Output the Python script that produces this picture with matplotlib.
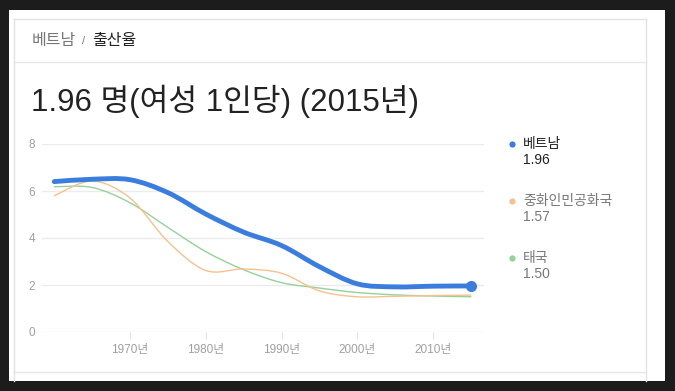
import matplotlib.pyplot as plt
from matplotlib.patches import Rectangle, PathPatch
from matplotlib.path import Path

years = [1960, 1965, 1970, 1975, 1980, 1985, 1990, 1995, 2000, 2005, 2010, 2015]
vietnam = [6.40, 6.50, 6.48, 5.93, 5.02, 4.25, 3.68, 2.78, 2.05, 1.92, 1.95, 1.96]
china = [5.80, 6.42, 5.70, 3.85, 2.62, 2.68, 2.50, 1.75, 1.50, 1.52, 1.55, 1.57]
thailand = [6.18, 6.15, 5.50, 4.45, 3.42, 2.65, 2.10, 1.87, 1.68, 1.58, 1.53, 1.50]

names = ['베트남', '중화인민공화국', '태국']
latest = ['1.96', '1.57', '1.50']
colors = ['#3b7ddd', '#f7c08f', '#95d19c']
xticks = [1970, 1980, 1990, 2000, 2010]
xticklabels = ['1970년', '1980년', '1990년', '2000년', '2010년']
yticks = [0, 2, 4, 6, 8]

FONT = ['Liberation Sans', 'Noto Sans CJK KR']
W, H = 675, 391


def smooth_path(xs, ys):
    # catmull-rom through the points, drawn as cubic beziers
    pts = list(zip(xs, ys))
    verts = [pts[0]]
    codes = [Path.MOVETO]
    n = len(pts)
    for i in range(n - 1):
        p0 = pts[max(i - 1, 0)]
        p1 = pts[i]
        p2 = pts[i + 1]
        p3 = pts[min(i + 2, n - 1)]
        c1 = (p1[0] + (p2[0] - p0[0]) / 6, p1[1] + (p2[1] - p0[1]) / 6)
        c2 = (p2[0] - (p3[0] - p1[0]) / 6, p2[1] - (p3[1] - p1[1]) / 6)
        verts += [c1, c2, p2]
        codes += [Path.CURVE4] * 3
    return Path(verts, codes)


fig = plt.figure(figsize=(W / 100, H / 100), dpi=100, facecolor='#1c1c1c')

# page / card background in pixel coords
bg = fig.add_axes([0, 0, 1, 1], zorder=0)
bg.set_xlim(0, W)
bg.set_ylim(H, 0)
bg.axis('off')
bg.add_patch(Rectangle((9, 10), 656, 371, fc='white', ec='none'))
bc = '#e2e2e2'
bg.plot([14, 646], [19, 19], color=bc, lw=1)
bg.plot([14, 14], [19, 381], color=bc, lw=1)
bg.plot([646, 646], [19, 381], color=bc, lw=1)
bg.plot([14, 646], [62, 62], color='#e6e6e6', lw=1)
bg.plot([14, 646], [372, 372], color='#e6e6e6', lw=1)

bg.text(32, 40, '베트남', color='#777777', fontsize=11.5, family=FONT, va='center')
bg.text(82, 41, '/', color='#777777', fontsize=8, family=FONT, va='center')
bg.text(92, 40, '출산율', color='#222222', fontsize=11.5, family=FONT, va='center')
bg.text(31, 111, '1.96 명(여성 1인당) (2015년)', color='#222222', fontsize=22.5,
        family=FONT, va='baseline')

# legend
leg_y = [144, 201, 258]
for i in range(3):
    bg.plot(512, leg_y[i], 'o', color=colors[i], ms=4.5, mec='none')
    c = '#222222' if i == 0 else '#777777'
    bg.text(523, leg_y[i], names[i], color=c, fontsize=10, family=FONT, va='center')
    bg.text(523, leg_y[i] + 16, latest[i], color=c, fontsize=10, family=FONT, va='center')

# chart
ax = fig.add_axes([42 / W, (H - 332) / H, 442 / W, 188 / H], zorder=1)
ax.set_facecolor('none')
ax.set_xlim(1958.38, 2016.73)
ax.set_ylim(0, 8)
for s in ax.spines.values():
    s.set_visible(False)
ax.set_yticks(yticks)
ax.set_yticklabels([str(v) for v in yticks])
ax.set_xticks(xticks)
ax.set_xticklabels(xticklabels)
ax.tick_params(axis='y', length=0, pad=5, labelsize=8.5, labelcolor='#a0a0a0')
ax.tick_params(axis='x', length=5, width=0.8, color='#e2e2e2', pad=4,
               labelsize=8.5, labelcolor='#a0a0a0')
for lab in ax.get_xticklabels() + ax.get_yticklabels():
    lab.set_family(FONT)
ax.grid(axis='y', color='#ebebeb', lw=1)
ax.set_axisbelow(True)

series = [thailand, china, vietnam]
scol = [colors[2], colors[1], colors[0]]
widths = [1.0, 1.0, 3.5]
for ys, c, lw in zip(series, scol, widths):
    ax.add_patch(PathPatch(smooth_path(years, ys), fill=False, ec=c, lw=lw,
                           capstyle='round', joinstyle='round'))
ax.plot(years[-1], vietnam[-1], 'o', color=colors[0], ms=8, mec='none', clip_on=False)

plt.savefig('out.png', dpi=100, facecolor=fig.get_facecolor())
